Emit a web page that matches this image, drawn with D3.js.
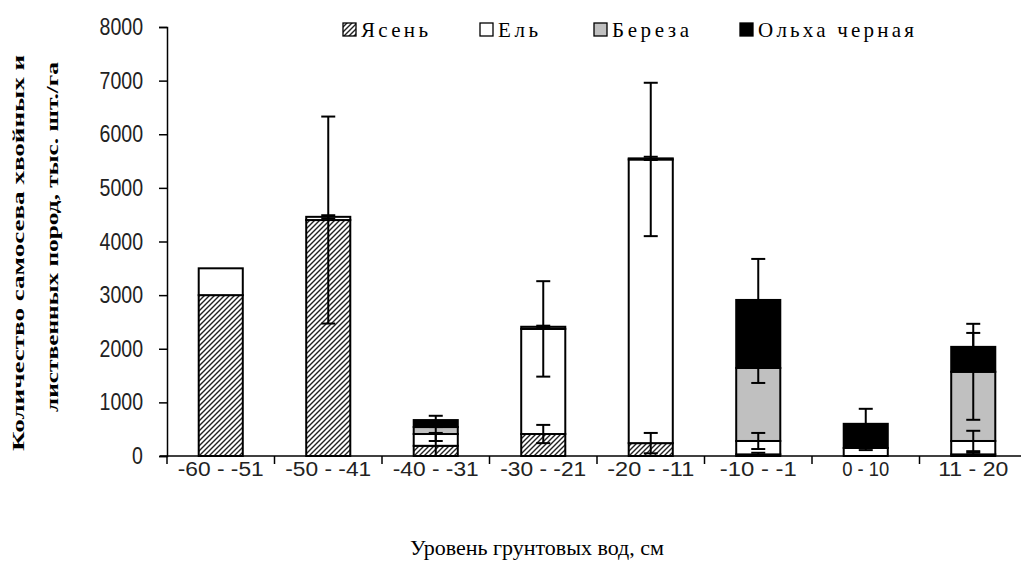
<!DOCTYPE html>
<html><head><meta charset="utf-8">
<script src="https://cdn.jsdelivr.net/npm/d3@7"></script>
<style>body{margin:0;background:#fff}svg{display:block}</style>
</head><body>
<svg id="c" width="1021" height="568"></svg>
<script>
const categories = ["-60 - -51","-50 - -41","-40 - -31","-30 - -21","-20 - -11","-10 - -1","0 - 10","11 - 20"];
const seriesNames = ["Ясень","Ель","Береза","Ольха черная"];
const yasen  = [3000, 4400, 190, 410, 240, 30, 0, 30];
const el     = [500, 60, 220, 1960, 5290, 250, 150, 250];
const bereza = [0, 0, 130, 40, 20, 1362, 0, 1290];
const olkha  = [0, 0, 130, 0, 0, 1268, 450, 465];
const yasenErr  = [0, 1930, 240, 170, 190, 30, 0, 30];
const elErr     = [0, 30, 130, 890, 1430, 150, 40, 190];
const berezaErr = [0, 0, 0, 20, 30, 280, 0, 895];
const olkhaErr  = [0, 0, 80, 0, 0, 765, 280, 260];
const yTicks = [0,1000,2000,3000,4000,5000,6000,7000,8000];

// style-only lookups
const xLabelWidth = [86, 86, 86, 86, 87, 77, 47, 70];
const legX = [343, 480, 594, 740];
const legW = [67, 40, 77, 156];

const svg = d3.select("#c");
const defs = svg.append("defs");
const pat = defs.append("pattern").attr("id","hatch").attr("patternUnits","userSpaceOnUse")
  .attr("width",5).attr("height",5);
pat.append("rect").attr("width",5).attr("height",5).attr("fill","#fff");
pat.append("path").attr("d","M-1,6 L6,-1 M-1,1 L1,-1 M4,6 L6,4").attr("stroke","#222").attr("stroke-width",1.4);

const fills = ["url(#hatch)","#ffffff","#c0c0c0","#000000"];
const vals = [yasen, el, bereza, olkha];
const errs = [yasenErr, elErr, berezaErr, olkhaErr];

const x = d3.scaleBand().domain(categories).range([167, 1027]).paddingInner(0).paddingOuter(0);
const y = d3.scaleLinear().domain([0, 8000]).range([456, 27]);
const bw = x.bandwidth()*0.41;

categories.forEach((c,i)=>{
  let cum = 0;
  vals.forEach((v,s)=>{
    const val = v[i];
    if (val > 0) {
      svg.append("rect")
        .attr("x", x(c)+x.bandwidth()/2-bw/2)
        .attr("y", y(cum+val))
        .attr("width", bw)
        .attr("height", y(cum)-y(cum+val))
        .attr("fill", fills[s]).attr("stroke","#000").attr("stroke-width",2);
    }
    cum += val;
  });
});
categories.forEach((c,i)=>{
  let cum = 0;
  vals.forEach((v,s)=>{
    cum += v[i];
    const e = errs[s][i];
    if (e > 0) {
      const cx = x(c)+x.bandwidth()/2;
      const hi = y(cum+e), lo = y(Math.max(0,cum-e));
      svg.append("line").attr("x1",cx).attr("x2",cx).attr("y1",hi).attr("y2",lo).attr("stroke","#000").attr("stroke-width",2);
      svg.append("line").attr("x1",cx-7).attr("x2",cx+7).attr("y1",hi).attr("y2",hi).attr("stroke","#000").attr("stroke-width",2);
      if (cum-e > 0) svg.append("line").attr("x1",cx-7).attr("x2",cx+7).attr("y1",lo).attr("y2",lo).attr("stroke","#000").attr("stroke-width",2);
    }
  });
});

const sansF = "'Liberation Sans','DejaVu Sans',sans-serif";
const serifF = "'Liberation Serif','Times New Roman',serif";

const yAxis = svg.append("g").attr("transform","translate(167,0)")
  .call(d3.axisLeft(y).tickValues(yTicks).tickSize(8).tickFormat(d3.format("d")));
yAxis.select(".domain").attr("stroke","#000").attr("stroke-width",1.5);
yAxis.selectAll(".tick line").attr("stroke","#000").attr("stroke-width",1.5);
yAxis.selectAll(".tick text").attr("x",null).attr("dy",null)
  .attr("font-family",sansF).attr("font-size",23).attr("fill","#222")
  .attr("text-anchor","end").attr("dominant-baseline","central")
  .attr("transform","translate(-24,0) scale(0.85,1)");

const xg = svg.append("g").attr("transform","translate(0,456)");
xg.append("line").attr("x1",160).attr("x2",1027).attr("y1",0).attr("y2",0).attr("stroke","#000").attr("stroke-width",1.5);
const bounds = categories.map(c=>x(c)).concat([x.range()[1]]);
xg.selectAll("line.t").data(bounds).enter().append("line")
  .attr("x1",d=>d).attr("x2",d=>d).attr("y1",0).attr("y2",8).attr("stroke","#000").attr("stroke-width",1.5);
xg.selectAll("text").data(categories).enter().append("text")
  .attr("x",(d,i)=>x(d)+x.bandwidth()/2-xLabelWidth[i]/2).attr("y",20)
  .attr("font-family",sansF).attr("font-size",20).attr("fill","#222")
  .attr("textLength",(d,i)=>xLabelWidth[i]).attr("lengthAdjust","spacingAndGlyphs").text(d=>d);

svg.append("text").attr("x",537).attr("y",555).attr("text-anchor","middle")
  .attr("font-family",serifF).attr("font-size",22).attr("fill","#000")
  .text("Уровень грунтовых вод, см");
const yt1 = "Количество самосева хвойных и", yt2 = "лиственных пород, тыс. шт./га";
svg.append("text").attr("transform","translate(24,253) rotate(-90)").attr("text-anchor","middle")
  .attr("font-family",serifF).attr("font-weight","bold").attr("font-size",16)
  .attr("textLength",396).attr("lengthAdjust","spacingAndGlyphs").text(yt1);
svg.append("text").attr("transform","translate(58,237) rotate(-90)").attr("text-anchor","middle")
  .attr("font-family",serifF).attr("font-weight","bold").attr("font-size",16)
  .attr("textLength",350).attr("lengthAdjust","spacingAndGlyphs").text(yt2);

const lg = svg.append("g");
seriesNames.forEach((n,s)=>{
  lg.append("rect").attr("x",legX[s]).attr("y",23).attr("width",13).attr("height",13)
    .attr("fill",fills[s]).attr("stroke","#000").attr("stroke-width",1.3);
  lg.append("text").attr("x",legX[s]+18).attr("y",37)
    .attr("font-family",serifF).attr("font-size",21).attr("fill","#000")
    .attr("textLength",legW[s]).attr("lengthAdjust","spacing").text(n);
});
</script>
</body></html>
